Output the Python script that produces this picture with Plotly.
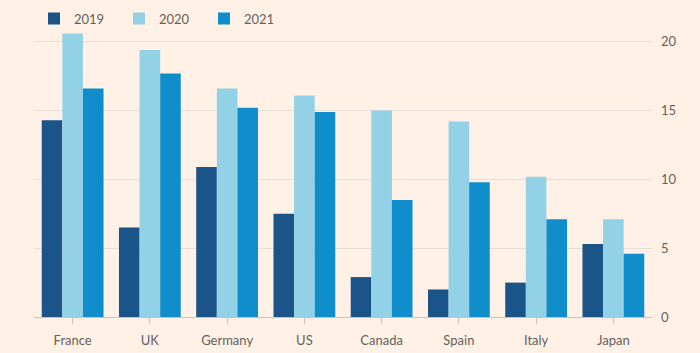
import plotly.graph_objects as go

countries = ["France", "UK", "Germany", "US", "Canada", "Spain", "Italy", "Japan"]
years = ["2019", "2020", "2021"]
v2019 = [14.3, 6.5, 10.9, 7.5, 2.9, 2.0, 2.5, 5.3]
v2020 = [20.6, 19.4, 16.6, 16.1, 15.0, 14.2, 10.2, 7.1]
v2021 = [16.6, 17.7, 15.2, 14.9, 8.5, 9.8, 7.1, 4.6]
colors = ["#1b5489", "#93d2e6", "#0f8ecb"]
y_ticks = [0, 5, 10, 15, 20]

fig = go.Figure()
for name, vals, c in zip(years, [v2019, v2020, v2021], colors):
    fig.add_trace(go.Bar(x=countries, y=vals, name=name, marker=dict(color=c, line=dict(width=0))))

bg = "#fff1e5"
txt = "#66605c"
fig.update_layout(
    width=700, height=353,
    paper_bgcolor=bg, plot_bgcolor=bg,
    margin=dict(l=34, r=48, t=28, b=36, autoexpand=False),
    barmode="group", bargap=0.2, bargroupgap=0,
    font=dict(family="Lato", size=13, color=txt),
    legend=dict(orientation="h", x=0.0, xref="paper", y=0.99, yref="container",
                xanchor="left", yanchor="top",
                entrywidth=40, entrywidthmode="pixels", font=dict(size=13, color=txt),
                bgcolor="rgba(0,0,0,0)", itemwidth=30),
    showlegend=True,
)
fig.update_xaxes(showline=True, linecolor="#ccc1b7", linewidth=1, ticks="outside", ticklen=6,
                 tickcolor="#ccc1b7", showgrid=False, tickfont=dict(size=13, color=txt),
                 ticklabelstandoff=5)
fig.update_yaxes(side="right", range=[0, 21], tickvals=y_ticks, showgrid=True, gridcolor="#e6ddd6",
                 zeroline=False, tickfont=dict(size=13, color=txt), ticklabelstandoff=8)
fig.write_html("out.html")
